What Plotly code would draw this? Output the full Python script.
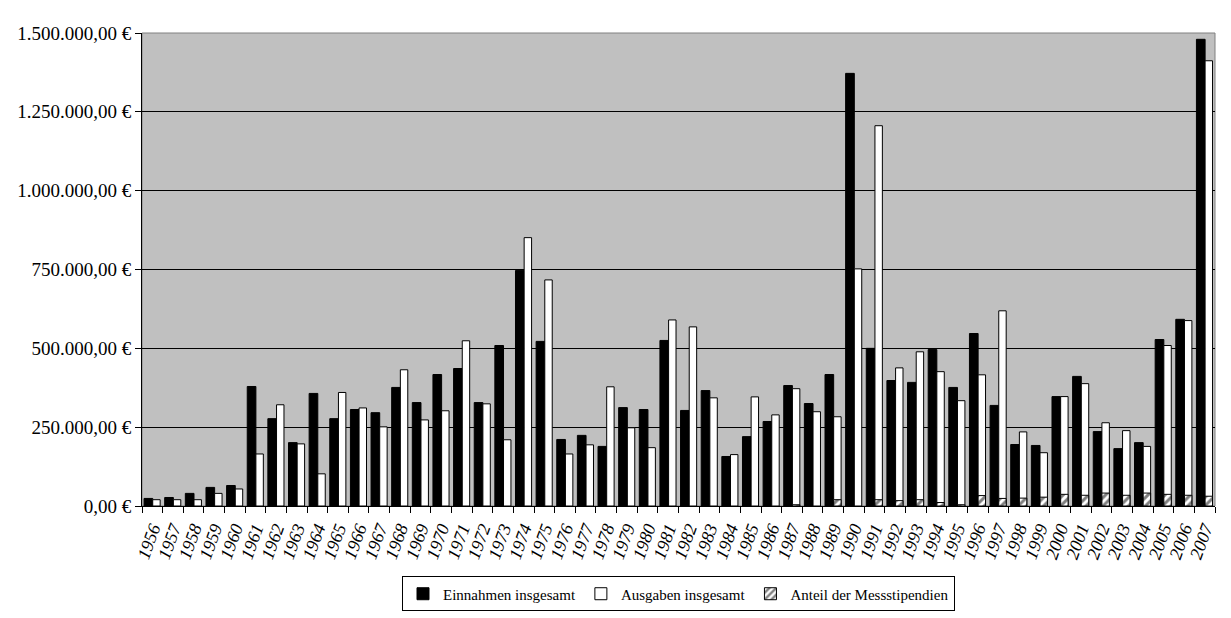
import plotly.graph_objects as go

# Jahre (Kategorien)
years = ["1956", "1957", "1958", "1959", "1960", "1961", "1962", "1963", "1964", "1965",
         "1966", "1967", "1968", "1969", "1970", "1971", "1972", "1973", "1974", "1975",
         "1976", "1977", "1978", "1979", "1980", "1981", "1982", "1983", "1984", "1985",
         "1986", "1987", "1988", "1989", "1990", "1991", "1992", "1993", "1994", "1995",
         "1996", "1997", "1998", "1999", "2000", "2001", "2002", "2003", "2004", "2005",
         "2006", "2007"]

einnahmen = [24000, 27000, 40000, 59000, 65000, 379000, 277000, 201000, 357000, 277000,
             306000, 296000, 376000, 328000, 417000, 436000, 328000, 509000, 747000, 522000,
             211000, 224000, 189000, 312000, 306000, 525000, 303000, 366000, 157000, 220000,
             268000, 382000, 325000, 417000, 1372000, 500000, 398000, 392000, 496000, 376000,
             547000, 319000, 195000, 192000, 347000, 411000, 236000, 182000, 201000, 528000,
             592000, 1480000]

ausgaben = [20000, 20000, 20000, 40000, 54000, 165000, 321000, 197000, 102000, 360000,
            311000, 251000, 432000, 273000, 302000, 524000, 324000, 210000, 851000, 717000,
            165000, 194000, 378000, 248000, 185000, 590000, 568000, 343000, 163000, 346000,
            289000, 372000, 299000, 283000, 752000, 1206000, 438000, 489000, 426000, 334000,
            416000, 619000, 235000, 169000, 347000, 388000, 264000, 239000, 189000, 509000,
            588000, 1412000]

messstipendien = [None, None, None, None, None, None, None, None, None, None,
                  None, None, None, None, None, None, None, None, None, None,
                  None, None, None, None, None, None, None, None, None, None,
                  None, 4000, None, 20000, None, 20000, 17000, 20000, 11000, 4000,
                  33000, 24000, 25000, 28000, 37000, 34000, 41000, 34000, 41000, 37000,
                  34000, 31000]

y_ticks = [0, 250000, 500000, 750000, 1000000, 1250000, 1500000]
y_labels = ["0,00 €", "250.000,00 €", "500.000,00 €", "750.000,00 €",
            "1.000.000,00 €", "1.250.000,00 €", "1.500.000,00 €"]

serif = "Liberation Serif"

fig = go.Figure()

fig.add_trace(go.Bar(
    x=years, y=einnahmen, name="Einnahmen insgesamt",
    marker=dict(color="black", line=dict(color="black", width=1)),
    offset=-0.4, width=0.42
))
fig.add_trace(go.Bar(
    x=years, y=ausgaben, name="Ausgaben insgesamt",
    marker=dict(color="white", line=dict(color="black", width=1)),
    offset=0.02, width=0.36
))
fig.add_trace(go.Bar(
    x=years, y=messstipendien, name="Anteil der Messstipendien",
    marker=dict(color="white", line=dict(color="black", width=1),
                pattern=dict(shape="/", fgcolor="black", bgcolor="white",
                             size=6, solidity=0.5)),
    offset=0.02, width=0.36
))

# page body adds ~8px offset, so the figure is a bit smaller than the window
fig.update_layout(
    width=1223, height=610,
    barmode="overlay",
    paper_bgcolor="white",
    plot_bgcolor="#c0c0c0",
    margin=dict(l=134, r=16, t=25, b=112, autoexpand=False),
    font=dict(family=serif, color="black", size=16),
    showlegend=True,
    legend=dict(
        orientation="h", x=0.5, xanchor="center", y=-0.186, yanchor="middle",
        bordercolor="black", borderwidth=1, bgcolor="white",
        font=dict(family=serif, size=15, color="black"), itemwidth=30,
        traceorder="normal", tracegroupgap=0
    ),
    shapes=[dict(type="rect", xref="paper", yref="paper", x0=0, y0=0, x1=1, y1=1,
                 line=dict(color="#808080", width=1), layer="below")]
)

fig.update_xaxes(
    type="category",
    tickmode="array", tickvals=years, ticktext=years,
    tickson="boundaries",
    ticks="outside", ticklen=6, tickcolor="black",
    tickangle=-70,
    ticklabelstandoff=4,
    tickfont=dict(family=serif, size=18, style="italic"),
    showline=True, linecolor="black", linewidth=1,
    showgrid=False, automargin=False,
    range=[-0.5, len(years) - 0.5]
)

fig.update_yaxes(
    range=[0, 1500000],
    tickvals=y_ticks, ticktext=y_labels,
    ticks="outside", ticklen=6, tickcolor="black",
    tickfont=dict(family=serif, size=19),
    showline=True, linecolor="black", linewidth=1,
    showgrid=True, gridcolor="black", gridwidth=1,
    zeroline=False, automargin=False
)

fig.write_html("out.html")
